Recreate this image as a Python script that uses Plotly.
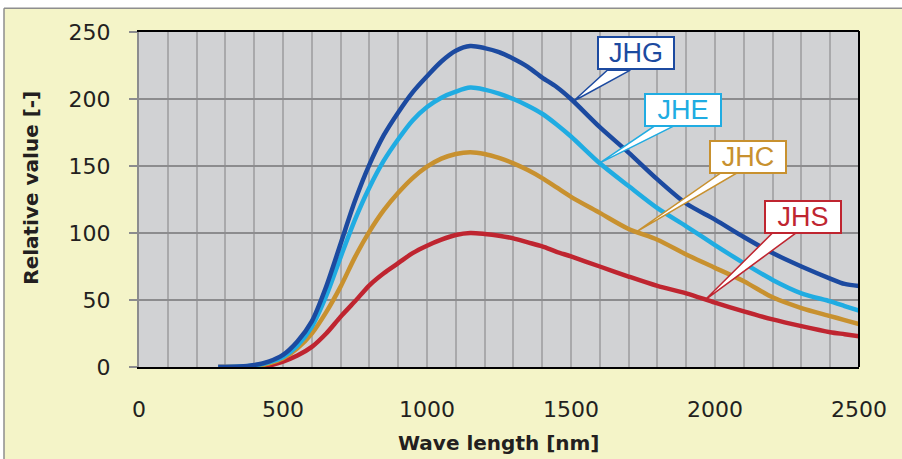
import numpy as np
import plotly.graph_objects as go

# ---------------- data ----------------
wavelength = [275, 300, 350, 400, 450, 500, 550, 600, 650, 700, 750, 800, 850, 900, 950,
              1000, 1050, 1100, 1150, 1200, 1250, 1300, 1350, 1400, 1450, 1500,
              1600, 1700, 1800, 1900, 2000, 2100, 2200, 2300, 2400, 2450, 2500]

jhg = [0, 0, 0.3, 1.5, 4, 9, 19, 34, 60, 92, 124, 151, 173, 190, 205,
       217, 228, 236, 239.5, 238, 235, 230, 224, 216, 209, 200,
       179, 160, 140, 122, 110, 97, 85, 75, 66, 62, 60.5]

jhe = [0, 0, 0.3, 1.2, 3.5, 7.5, 16, 30, 53, 82, 110, 134, 154, 170, 184,
       194, 201, 205.5, 208.5, 207, 204, 200, 195, 189, 181, 172,
       152, 135, 118.5, 105, 91, 77.5, 65, 55, 49, 45.5, 42]

jhc = [0, 0, 0, 0.5, 2.5, 6.5, 14, 25, 41, 60, 82, 101, 117, 130, 141,
       149.5, 155.5, 159, 160.3, 159, 156, 152, 147, 141, 134, 127,
       115, 103, 95, 84, 74, 64, 52, 44, 38, 35, 32]

jhs = [0, 0, 0, 0, 1, 4, 8.5, 15, 25, 37.5, 49, 61, 70, 77.5, 85,
       90.5, 95, 98.5, 100, 99.3, 98, 96, 93, 90, 86, 82.5,
       75, 67.5, 60.5, 55, 48, 41.5, 35.5, 30.5, 26, 24.5, 23]

series_names = ["JHS", "JHC", "JHE", "JHG"]
x_tick_vals = [0, 500, 1000, 1500, 2000, 2500]
y_tick_vals = [0, 50, 100, 150, 200, 250]

# ---------------- styles ----------------
colors = {"JHG": "#1c4aa0", "JHE": "#20ace2", "JHC": "#c8912f", "JHS": "#bf2530"}
values = {"JHG": jhg, "JHE": jhe, "JHC": jhc, "JHS": jhs}

# callout label placement (box centre, wedge tip wavelength, wedge base x-range, box bottom)
callouts = {
    "JHG": dict(cx=1725, cy=234, tip=1508, b0=1626, b1=1706, bottom=221.5),
    "JHE": dict(cx=1889, cy=192, tip=1599, b0=1800, b1=1870, bottom=181.3),
    "JHC": dict(cx=2113, cy=157, tip=1727, b0=2030, b1=2088, bottom=146.3),
    "JHS": dict(cx=2305, cy=112, tip=1967, b0=2203, b1=2286, bottom=100.8),
}

BG_YELLOW = "#f4f4c8"
PLOT_GRAY = "#d1d2d4"
TEXT = "#231f20"
FONT = "DejaVu Sans"

fig = go.Figure()
for name in series_names:
    fig.add_trace(go.Scatter(
        x=wavelength, y=values[name], mode="lines", name=name,
        line=dict(color=colors[name], width=4.5, shape="spline", smoothing=0.8),
        showlegend=False, hoverinfo="skip",
    ))

shapes = []
annotations = []
for name, c in callouts.items():
    tip_y = float(np.interp(c["tip"], wavelength, values[name]))
    path = (f"M {c['tip']},{tip_y} L {c['b0']},{c['bottom']} "
            f"L {c['b1']},{c['bottom']} Z")
    shapes.append(dict(type="path", path=path, xref="x", yref="y",
                       fillcolor="white", line=dict(color=colors[name], width=1.5),
                       layer="above"))
    annotations.append(dict(
        x=c["cx"], y=c["cy"], xref="x", yref="y", text=name, showarrow=False,
        font=dict(family="Liberation Sans", size=27, color=colors[name]),
        bgcolor="white", bordercolor=colors[name], borderwidth=2, borderpad=1,
        width=72, height=28, xanchor="center", yanchor="middle",
    ))

# axis titles
annotations.append(dict(
    text="<b>Wave length [nm]</b>", x=0.5, y=-0.228, xref="paper", yref="paper",
    showarrow=False, xanchor="center", yanchor="middle",
    font=dict(family=FONT, size=20, color=TEXT)))
annotations.append(dict(
    text="<b>Relative value [-]</b>", x=-0.150, y=0.535, xref="paper", yref="paper",
    showarrow=False, xanchor="center", yanchor="middle", textangle=-90,
    font=dict(family=FONT, size=20, color=TEXT)))

# white page margin above / left of the yellow panel, and thin grey panel frame
shapes.append(dict(type="rect", xref="paper", yref="paper", x0=-1, x1=2, y0=1.071, y1=2,
                   fillcolor="white", line=dict(width=0), layer="below"))
shapes.append(dict(type="rect", xref="paper", yref="paper", x0=-1, x1=-0.1875, y0=-2, y1=2,
                   fillcolor="white", line=dict(width=0), layer="below"))
shapes.append(dict(type="line", xref="paper", yref="paper", x0=-0.1875, x1=1.2, y0=1.071, y1=1.071,
                   line=dict(color="#8e8e8e", width=1.5), layer="below"))
shapes.append(dict(type="line", xref="paper", yref="paper", x0=-0.1875, x1=-0.1875, y0=-0.5, y1=1.071,
                   line=dict(color="#8e8e8e", width=1.5), layer="below"))
# right black plot border
shapes.append(dict(type="line", xref="paper", yref="paper", x0=1, x1=1, y0=0, y1=1.003,
                   line=dict(color="black", width=2), layer="above"))

fig.update_layout(
    width=902, height=459,
    margin=dict(l=139, r=43, t=32, b=92),
    paper_bgcolor=BG_YELLOW, plot_bgcolor=PLOT_GRAY,
    font=dict(family=FONT, color=TEXT),
    shapes=shapes, annotations=annotations,
)
fig.update_xaxes(
    range=[0, 2500], tickvals=x_tick_vals, ticktext=[str(v) for v in x_tick_vals],
    showgrid=True, gridcolor="#a9a9ab", gridwidth=1.5,
    minor=dict(dtick=100, showgrid=True, gridcolor="#a9a9ab", gridwidth=1.5),
    showline=True, linecolor="black", linewidth=2, mirror=True,
    ticks="", ticklabelstandoff=22,
    tickfont=dict(family=FONT, size=22, color=TEXT), zeroline=False,
)
fig.update_yaxes(
    range=[0, 250], tickvals=y_tick_vals, ticktext=[str(v) for v in y_tick_vals],
    showgrid=True, gridcolor="#8c8c8e", gridwidth=2,
    showline=True, linecolor="#8c8c8e", linewidth=2,
    ticks="outside", ticklen=8, tickcolor="#8c8c8e", tickwidth=2, ticklabelstandoff=14,
    tickfont=dict(family=FONT, size=22, color=TEXT), zeroline=False,
)

fig.write_html(
    "out.html",
    config={"displayModeBar": False},
    post_script=("document.body.style.margin='0';"
                 "document.body.style.overflow='hidden';"
                 "document.documentElement.style.overflow='hidden';"),
)
